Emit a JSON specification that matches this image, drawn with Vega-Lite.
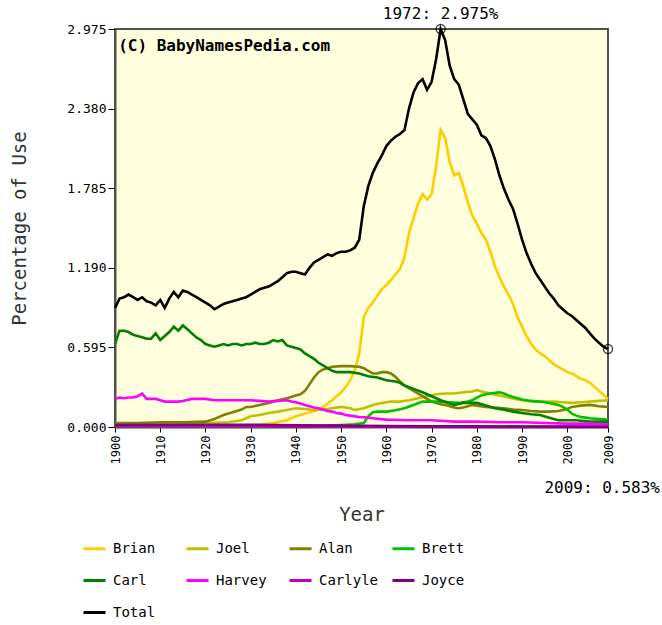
{
"$schema": "https://vega.github.io/schema/vega-lite/v6.json",
"autosize": {"type": "none"},
"padding": {"left": 115, "top": 29, "right": 54, "bottom": 198},
"width": 493,
"height": 398,
"background": "white",
"config": {"view": {"stroke": "#505050", "strokeWidth": 2, "fill": "#ffffde"}},
"datasets": {
"series": [
{"Name":"Brian","Year":1900,"Pct":0.003},{"Name":"Brian","Year":1930,"Pct":0.01},{"Name":"Brian","Year":1935,"Pct":0.03},{"Name":"Brian","Year":1938,"Pct":0.05},{"Name":"Brian","Year":1940,"Pct":0.08},{"Name":"Brian","Year":1942,"Pct":0.10},{"Name":"Brian","Year":1944,"Pct":0.12},{"Name":"Brian","Year":1946,"Pct":0.15},{"Name":"Brian","Year":1948,"Pct":0.20},{"Name":"Brian","Year":1950,"Pct":0.26},{"Name":"Brian","Year":1951,"Pct":0.30},{"Name":"Brian","Year":1952,"Pct":0.35},{"Name":"Brian","Year":1953,"Pct":0.42},{"Name":"Brian","Year":1954,"Pct":0.55},{"Name":"Brian","Year":1955,"Pct":0.82},{"Name":"Brian","Year":1956,"Pct":0.89},{"Name":"Brian","Year":1957,"Pct":0.93},{"Name":"Brian","Year":1958,"Pct":0.98},{"Name":"Brian","Year":1959,"Pct":1.03},{"Name":"Brian","Year":1960,"Pct":1.06},{"Name":"Brian","Year":1961,"Pct":1.10},{"Name":"Brian","Year":1962,"Pct":1.14},{"Name":"Brian","Year":1963,"Pct":1.18},{"Name":"Brian","Year":1964,"Pct":1.27},{"Name":"Brian","Year":1965,"Pct":1.45},{"Name":"Brian","Year":1966,"Pct":1.56},{"Name":"Brian","Year":1967,"Pct":1.67},{"Name":"Brian","Year":1968,"Pct":1.74},{"Name":"Brian","Year":1969,"Pct":1.70},{"Name":"Brian","Year":1970,"Pct":1.74},{"Name":"Brian","Year":1971,"Pct":1.95},{"Name":"Brian","Year":1972,"Pct":2.22},{"Name":"Brian","Year":1973,"Pct":2.16},{"Name":"Brian","Year":1974,"Pct":1.98},{"Name":"Brian","Year":1975,"Pct":1.88},{"Name":"Brian","Year":1976,"Pct":1.90},{"Name":"Brian","Year":1977,"Pct":1.80},{"Name":"Brian","Year":1978,"Pct":1.68},{"Name":"Brian","Year":1979,"Pct":1.58},{"Name":"Brian","Year":1980,"Pct":1.52},{"Name":"Brian","Year":1981,"Pct":1.45},{"Name":"Brian","Year":1982,"Pct":1.40},{"Name":"Brian","Year":1983,"Pct":1.31},{"Name":"Brian","Year":1984,"Pct":1.20},{"Name":"Brian","Year":1985,"Pct":1.12},{"Name":"Brian","Year":1986,"Pct":1.05},{"Name":"Brian","Year":1987,"Pct":0.99},{"Name":"Brian","Year":1988,"Pct":0.92},{"Name":"Brian","Year":1989,"Pct":0.82},{"Name":"Brian","Year":1990,"Pct":0.75},{"Name":"Brian","Year":1991,"Pct":0.68},{"Name":"Brian","Year":1992,"Pct":0.62},{"Name":"Brian","Year":1993,"Pct":0.58},{"Name":"Brian","Year":1994,"Pct":0.55},{"Name":"Brian","Year":1995,"Pct":0.53},{"Name":"Brian","Year":1996,"Pct":0.50},{"Name":"Brian","Year":1997,"Pct":0.47},{"Name":"Brian","Year":1998,"Pct":0.45},{"Name":"Brian","Year":1999,"Pct":0.43},{"Name":"Brian","Year":2000,"Pct":0.41},{"Name":"Brian","Year":2001,"Pct":0.40},{"Name":"Brian","Year":2002,"Pct":0.38},{"Name":"Brian","Year":2003,"Pct":0.36},{"Name":"Brian","Year":2004,"Pct":0.35},{"Name":"Brian","Year":2005,"Pct":0.33},{"Name":"Brian","Year":2006,"Pct":0.30},{"Name":"Brian","Year":2007,"Pct":0.27},{"Name":"Brian","Year":2008,"Pct":0.24},{"Name":"Brian","Year":2009,"Pct":0.21},
{"Name":"Joel","Year":1900,"Pct":0.025},{"Name":"Joel","Year":1905,"Pct":0.028},{"Name":"Joel","Year":1910,"Pct":0.03},{"Name":"Joel","Year":1915,"Pct":0.03},{"Name":"Joel","Year":1920,"Pct":0.03},{"Name":"Joel","Year":1925,"Pct":0.035},{"Name":"Joel","Year":1928,"Pct":0.05},{"Name":"Joel","Year":1930,"Pct":0.08},{"Name":"Joel","Year":1932,"Pct":0.09},{"Name":"Joel","Year":1934,"Pct":0.105},{"Name":"Joel","Year":1936,"Pct":0.115},{"Name":"Joel","Year":1938,"Pct":0.127},{"Name":"Joel","Year":1940,"Pct":0.14},{"Name":"Joel","Year":1942,"Pct":0.135},{"Name":"Joel","Year":1944,"Pct":0.127},{"Name":"Joel","Year":1946,"Pct":0.13},{"Name":"Joel","Year":1948,"Pct":0.14},{"Name":"Joel","Year":1950,"Pct":0.15},{"Name":"Joel","Year":1952,"Pct":0.14},{"Name":"Joel","Year":1953,"Pct":0.127},{"Name":"Joel","Year":1955,"Pct":0.14},{"Name":"Joel","Year":1957,"Pct":0.165},{"Name":"Joel","Year":1959,"Pct":0.18},{"Name":"Joel","Year":1961,"Pct":0.19},{"Name":"Joel","Year":1963,"Pct":0.19},{"Name":"Joel","Year":1965,"Pct":0.20},{"Name":"Joel","Year":1967,"Pct":0.215},{"Name":"Joel","Year":1969,"Pct":0.23},{"Name":"Joel","Year":1971,"Pct":0.245},{"Name":"Joel","Year":1973,"Pct":0.25},{"Name":"Joel","Year":1975,"Pct":0.25},{"Name":"Joel","Year":1977,"Pct":0.26},{"Name":"Joel","Year":1979,"Pct":0.265},{"Name":"Joel","Year":1980,"Pct":0.275},{"Name":"Joel","Year":1981,"Pct":0.265},{"Name":"Joel","Year":1983,"Pct":0.25},{"Name":"Joel","Year":1985,"Pct":0.235},{"Name":"Joel","Year":1987,"Pct":0.22},{"Name":"Joel","Year":1989,"Pct":0.205},{"Name":"Joel","Year":1991,"Pct":0.195},{"Name":"Joel","Year":1993,"Pct":0.19},{"Name":"Joel","Year":1995,"Pct":0.19},{"Name":"Joel","Year":1997,"Pct":0.19},{"Name":"Joel","Year":1999,"Pct":0.185},{"Name":"Joel","Year":2001,"Pct":0.18},{"Name":"Joel","Year":2003,"Pct":0.185},{"Name":"Joel","Year":2005,"Pct":0.19},{"Name":"Joel","Year":2007,"Pct":0.195},{"Name":"Joel","Year":2009,"Pct":0.20},
{"Name":"Alan","Year":1900,"Pct":0.03},{"Name":"Alan","Year":1905,"Pct":0.03},{"Name":"Alan","Year":1910,"Pct":0.035},{"Name":"Alan","Year":1915,"Pct":0.035},{"Name":"Alan","Year":1920,"Pct":0.04},{"Name":"Alan","Year":1922,"Pct":0.06},{"Name":"Alan","Year":1924,"Pct":0.09},{"Name":"Alan","Year":1926,"Pct":0.11},{"Name":"Alan","Year":1928,"Pct":0.13},{"Name":"Alan","Year":1929,"Pct":0.15},{"Name":"Alan","Year":1930,"Pct":0.15},{"Name":"Alan","Year":1932,"Pct":0.165},{"Name":"Alan","Year":1934,"Pct":0.18},{"Name":"Alan","Year":1936,"Pct":0.20},{"Name":"Alan","Year":1938,"Pct":0.215},{"Name":"Alan","Year":1940,"Pct":0.235},{"Name":"Alan","Year":1941,"Pct":0.245},{"Name":"Alan","Year":1942,"Pct":0.27},{"Name":"Alan","Year":1943,"Pct":0.32},{"Name":"Alan","Year":1944,"Pct":0.37},{"Name":"Alan","Year":1945,"Pct":0.41},{"Name":"Alan","Year":1946,"Pct":0.43},{"Name":"Alan","Year":1947,"Pct":0.44},{"Name":"Alan","Year":1948,"Pct":0.45},{"Name":"Alan","Year":1950,"Pct":0.455},{"Name":"Alan","Year":1952,"Pct":0.455},{"Name":"Alan","Year":1954,"Pct":0.45},{"Name":"Alan","Year":1955,"Pct":0.44},{"Name":"Alan","Year":1956,"Pct":0.42},{"Name":"Alan","Year":1957,"Pct":0.40},{"Name":"Alan","Year":1958,"Pct":0.40},{"Name":"Alan","Year":1959,"Pct":0.41},{"Name":"Alan","Year":1960,"Pct":0.41},{"Name":"Alan","Year":1961,"Pct":0.40},{"Name":"Alan","Year":1962,"Pct":0.375},{"Name":"Alan","Year":1963,"Pct":0.34},{"Name":"Alan","Year":1964,"Pct":0.31},{"Name":"Alan","Year":1965,"Pct":0.29},{"Name":"Alan","Year":1966,"Pct":0.27},{"Name":"Alan","Year":1967,"Pct":0.25},{"Name":"Alan","Year":1968,"Pct":0.23},{"Name":"Alan","Year":1969,"Pct":0.21},{"Name":"Alan","Year":1970,"Pct":0.19},{"Name":"Alan","Year":1971,"Pct":0.18},{"Name":"Alan","Year":1972,"Pct":0.17},{"Name":"Alan","Year":1973,"Pct":0.165},{"Name":"Alan","Year":1974,"Pct":0.155},{"Name":"Alan","Year":1975,"Pct":0.145},{"Name":"Alan","Year":1976,"Pct":0.14},{"Name":"Alan","Year":1977,"Pct":0.145},{"Name":"Alan","Year":1978,"Pct":0.155},{"Name":"Alan","Year":1979,"Pct":0.165},{"Name":"Alan","Year":1980,"Pct":0.16},{"Name":"Alan","Year":1982,"Pct":0.15},{"Name":"Alan","Year":1984,"Pct":0.145},{"Name":"Alan","Year":1986,"Pct":0.14},{"Name":"Alan","Year":1988,"Pct":0.13},{"Name":"Alan","Year":1990,"Pct":0.127},{"Name":"Alan","Year":1992,"Pct":0.12},{"Name":"Alan","Year":1994,"Pct":0.115},{"Name":"Alan","Year":1996,"Pct":0.115},{"Name":"Alan","Year":1998,"Pct":0.12},{"Name":"Alan","Year":2000,"Pct":0.135},{"Name":"Alan","Year":2001,"Pct":0.15},{"Name":"Alan","Year":2002,"Pct":0.155},{"Name":"Alan","Year":2003,"Pct":0.16},{"Name":"Alan","Year":2005,"Pct":0.165},{"Name":"Alan","Year":2007,"Pct":0.155},{"Name":"Alan","Year":2009,"Pct":0.15},
{"Name":"Brett","Year":1900,"Pct":0.0},{"Name":"Brett","Year":1945,"Pct":0.0},{"Name":"Brett","Year":1947,"Pct":0.01},{"Name":"Brett","Year":1950,"Pct":0.015},{"Name":"Brett","Year":1953,"Pct":0.02},{"Name":"Brett","Year":1955,"Pct":0.03},{"Name":"Brett","Year":1956,"Pct":0.08},{"Name":"Brett","Year":1957,"Pct":0.11},{"Name":"Brett","Year":1958,"Pct":0.115},{"Name":"Brett","Year":1960,"Pct":0.115},{"Name":"Brett","Year":1962,"Pct":0.125},{"Name":"Brett","Year":1964,"Pct":0.14},{"Name":"Brett","Year":1966,"Pct":0.165},{"Name":"Brett","Year":1968,"Pct":0.19},{"Name":"Brett","Year":1970,"Pct":0.19},{"Name":"Brett","Year":1972,"Pct":0.19},{"Name":"Brett","Year":1974,"Pct":0.185},{"Name":"Brett","Year":1976,"Pct":0.18},{"Name":"Brett","Year":1978,"Pct":0.19},{"Name":"Brett","Year":1979,"Pct":0.20},{"Name":"Brett","Year":1980,"Pct":0.22},{"Name":"Brett","Year":1981,"Pct":0.235},{"Name":"Brett","Year":1982,"Pct":0.245},{"Name":"Brett","Year":1983,"Pct":0.25},{"Name":"Brett","Year":1984,"Pct":0.255},{"Name":"Brett","Year":1985,"Pct":0.26},{"Name":"Brett","Year":1986,"Pct":0.25},{"Name":"Brett","Year":1987,"Pct":0.235},{"Name":"Brett","Year":1988,"Pct":0.225},{"Name":"Brett","Year":1989,"Pct":0.215},{"Name":"Brett","Year":1990,"Pct":0.205},{"Name":"Brett","Year":1991,"Pct":0.20},{"Name":"Brett","Year":1992,"Pct":0.195},{"Name":"Brett","Year":1994,"Pct":0.19},{"Name":"Brett","Year":1996,"Pct":0.18},{"Name":"Brett","Year":1998,"Pct":0.165},{"Name":"Brett","Year":1999,"Pct":0.15},{"Name":"Brett","Year":2000,"Pct":0.13},{"Name":"Brett","Year":2001,"Pct":0.10},{"Name":"Brett","Year":2002,"Pct":0.085},{"Name":"Brett","Year":2003,"Pct":0.075},{"Name":"Brett","Year":2004,"Pct":0.07},{"Name":"Brett","Year":2005,"Pct":0.065},{"Name":"Brett","Year":2007,"Pct":0.06},{"Name":"Brett","Year":2009,"Pct":0.055},
{"Name":"Carl","Year":1900,"Pct":0.62},{"Name":"Carl","Year":1901,"Pct":0.72},{"Name":"Carl","Year":1902,"Pct":0.72},{"Name":"Carl","Year":1903,"Pct":0.71},{"Name":"Carl","Year":1904,"Pct":0.69},{"Name":"Carl","Year":1905,"Pct":0.68},{"Name":"Carl","Year":1906,"Pct":0.67},{"Name":"Carl","Year":1907,"Pct":0.66},{"Name":"Carl","Year":1908,"Pct":0.66},{"Name":"Carl","Year":1909,"Pct":0.70},{"Name":"Carl","Year":1910,"Pct":0.65},{"Name":"Carl","Year":1911,"Pct":0.68},{"Name":"Carl","Year":1912,"Pct":0.71},{"Name":"Carl","Year":1913,"Pct":0.75},{"Name":"Carl","Year":1914,"Pct":0.72},{"Name":"Carl","Year":1915,"Pct":0.76},{"Name":"Carl","Year":1916,"Pct":0.73},{"Name":"Carl","Year":1917,"Pct":0.70},{"Name":"Carl","Year":1918,"Pct":0.67},{"Name":"Carl","Year":1919,"Pct":0.65},{"Name":"Carl","Year":1920,"Pct":0.62},{"Name":"Carl","Year":1921,"Pct":0.61},{"Name":"Carl","Year":1922,"Pct":0.60},{"Name":"Carl","Year":1923,"Pct":0.61},{"Name":"Carl","Year":1924,"Pct":0.62},{"Name":"Carl","Year":1925,"Pct":0.61},{"Name":"Carl","Year":1926,"Pct":0.62},{"Name":"Carl","Year":1927,"Pct":0.62},{"Name":"Carl","Year":1928,"Pct":0.61},{"Name":"Carl","Year":1929,"Pct":0.62},{"Name":"Carl","Year":1930,"Pct":0.62},{"Name":"Carl","Year":1931,"Pct":0.63},{"Name":"Carl","Year":1932,"Pct":0.62},{"Name":"Carl","Year":1933,"Pct":0.62},{"Name":"Carl","Year":1934,"Pct":0.63},{"Name":"Carl","Year":1935,"Pct":0.65},{"Name":"Carl","Year":1936,"Pct":0.64},{"Name":"Carl","Year":1937,"Pct":0.65},{"Name":"Carl","Year":1938,"Pct":0.61},{"Name":"Carl","Year":1939,"Pct":0.60},{"Name":"Carl","Year":1940,"Pct":0.59},{"Name":"Carl","Year":1941,"Pct":0.58},{"Name":"Carl","Year":1942,"Pct":0.55},{"Name":"Carl","Year":1943,"Pct":0.53},{"Name":"Carl","Year":1944,"Pct":0.51},{"Name":"Carl","Year":1945,"Pct":0.48},{"Name":"Carl","Year":1946,"Pct":0.46},{"Name":"Carl","Year":1947,"Pct":0.44},{"Name":"Carl","Year":1948,"Pct":0.42},{"Name":"Carl","Year":1949,"Pct":0.41},{"Name":"Carl","Year":1952,"Pct":0.41},{"Name":"Carl","Year":1954,"Pct":0.40},{"Name":"Carl","Year":1956,"Pct":0.38},{"Name":"Carl","Year":1958,"Pct":0.37},{"Name":"Carl","Year":1960,"Pct":0.35},{"Name":"Carl","Year":1962,"Pct":0.34},{"Name":"Carl","Year":1963,"Pct":0.33},{"Name":"Carl","Year":1964,"Pct":0.31},{"Name":"Carl","Year":1966,"Pct":0.285},{"Name":"Carl","Year":1968,"Pct":0.26},{"Name":"Carl","Year":1970,"Pct":0.23},{"Name":"Carl","Year":1972,"Pct":0.20},{"Name":"Carl","Year":1974,"Pct":0.175},{"Name":"Carl","Year":1975,"Pct":0.165},{"Name":"Carl","Year":1977,"Pct":0.18},{"Name":"Carl","Year":1980,"Pct":0.18},{"Name":"Carl","Year":1982,"Pct":0.16},{"Name":"Carl","Year":1984,"Pct":0.14},{"Name":"Carl","Year":1986,"Pct":0.13},{"Name":"Carl","Year":1988,"Pct":0.115},{"Name":"Carl","Year":1990,"Pct":0.105},{"Name":"Carl","Year":1992,"Pct":0.095},{"Name":"Carl","Year":1994,"Pct":0.09},{"Name":"Carl","Year":1996,"Pct":0.07},{"Name":"Carl","Year":1998,"Pct":0.05},{"Name":"Carl","Year":2002,"Pct":0.05},{"Name":"Carl","Year":2005,"Pct":0.04},{"Name":"Carl","Year":2009,"Pct":0.04},
{"Name":"Harvey","Year":1900,"Pct":0.21},{"Name":"Harvey","Year":1901,"Pct":0.22},{"Name":"Harvey","Year":1902,"Pct":0.215},{"Name":"Harvey","Year":1903,"Pct":0.22},{"Name":"Harvey","Year":1904,"Pct":0.22},{"Name":"Harvey","Year":1905,"Pct":0.23},{"Name":"Harvey","Year":1906,"Pct":0.25},{"Name":"Harvey","Year":1907,"Pct":0.21},{"Name":"Harvey","Year":1909,"Pct":0.21},{"Name":"Harvey","Year":1910,"Pct":0.20},{"Name":"Harvey","Year":1911,"Pct":0.19},{"Name":"Harvey","Year":1914,"Pct":0.19},{"Name":"Harvey","Year":1915,"Pct":0.195},{"Name":"Harvey","Year":1917,"Pct":0.21},{"Name":"Harvey","Year":1920,"Pct":0.21},{"Name":"Harvey","Year":1922,"Pct":0.20},{"Name":"Harvey","Year":1926,"Pct":0.20},{"Name":"Harvey","Year":1930,"Pct":0.20},{"Name":"Harvey","Year":1932,"Pct":0.195},{"Name":"Harvey","Year":1934,"Pct":0.19},{"Name":"Harvey","Year":1936,"Pct":0.195},{"Name":"Harvey","Year":1938,"Pct":0.20},{"Name":"Harvey","Year":1939,"Pct":0.19},{"Name":"Harvey","Year":1940,"Pct":0.185},{"Name":"Harvey","Year":1941,"Pct":0.175},{"Name":"Harvey","Year":1942,"Pct":0.165},{"Name":"Harvey","Year":1943,"Pct":0.155},{"Name":"Harvey","Year":1944,"Pct":0.145},{"Name":"Harvey","Year":1945,"Pct":0.14},{"Name":"Harvey","Year":1946,"Pct":0.13},{"Name":"Harvey","Year":1947,"Pct":0.12},{"Name":"Harvey","Year":1948,"Pct":0.115},{"Name":"Harvey","Year":1949,"Pct":0.105},{"Name":"Harvey","Year":1950,"Pct":0.10},{"Name":"Harvey","Year":1951,"Pct":0.09},{"Name":"Harvey","Year":1952,"Pct":0.085},{"Name":"Harvey","Year":1954,"Pct":0.075},{"Name":"Harvey","Year":1956,"Pct":0.07},{"Name":"Harvey","Year":1957,"Pct":0.065},{"Name":"Harvey","Year":1960,"Pct":0.055},{"Name":"Harvey","Year":1965,"Pct":0.05},{"Name":"Harvey","Year":1970,"Pct":0.05},{"Name":"Harvey","Year":1975,"Pct":0.04},{"Name":"Harvey","Year":1980,"Pct":0.04},{"Name":"Harvey","Year":1985,"Pct":0.035},{"Name":"Harvey","Year":1990,"Pct":0.035},{"Name":"Harvey","Year":1995,"Pct":0.03},{"Name":"Harvey","Year":2000,"Pct":0.025},{"Name":"Harvey","Year":2005,"Pct":0.025},{"Name":"Harvey","Year":2009,"Pct":0.02},
{"Name":"Carlyle","Year":1900,"Pct":0.004},{"Name":"Carlyle","Year":1920,"Pct":0.004},{"Name":"Carlyle","Year":1940,"Pct":0.003},{"Name":"Carlyle","Year":1960,"Pct":0.002},{"Name":"Carlyle","Year":1980,"Pct":0.001},{"Name":"Carlyle","Year":2009,"Pct":0.001},
{"Name":"Joyce","Year":1900,"Pct":0.015},{"Name":"Joyce","Year":1920,"Pct":0.017},{"Name":"Joyce","Year":1930,"Pct":0.016},{"Name":"Joyce","Year":1940,"Pct":0.012},{"Name":"Joyce","Year":1950,"Pct":0.01},{"Name":"Joyce","Year":1960,"Pct":0.008},{"Name":"Joyce","Year":1970,"Pct":0.006},{"Name":"Joyce","Year":1980,"Pct":0.005},{"Name":"Joyce","Year":1990,"Pct":0.004},{"Name":"Joyce","Year":2000,"Pct":0.003},{"Name":"Joyce","Year":2009,"Pct":0.002},
{"Name":"Total","Year":1900,"Pct":0.89},{"Name":"Total","Year":1901,"Pct":0.96},{"Name":"Total","Year":1902,"Pct":0.97},{"Name":"Total","Year":1903,"Pct":0.99},{"Name":"Total","Year":1904,"Pct":0.97},{"Name":"Total","Year":1905,"Pct":0.95},{"Name":"Total","Year":1906,"Pct":0.97},{"Name":"Total","Year":1907,"Pct":0.94},{"Name":"Total","Year":1908,"Pct":0.93},{"Name":"Total","Year":1909,"Pct":0.91},{"Name":"Total","Year":1910,"Pct":0.95},{"Name":"Total","Year":1911,"Pct":0.89},{"Name":"Total","Year":1912,"Pct":0.96},{"Name":"Total","Year":1913,"Pct":1.01},{"Name":"Total","Year":1914,"Pct":0.97},{"Name":"Total","Year":1915,"Pct":1.02},{"Name":"Total","Year":1916,"Pct":1.01},{"Name":"Total","Year":1917,"Pct":0.99},{"Name":"Total","Year":1918,"Pct":0.97},{"Name":"Total","Year":1919,"Pct":0.95},{"Name":"Total","Year":1920,"Pct":0.93},{"Name":"Total","Year":1921,"Pct":0.91},{"Name":"Total","Year":1922,"Pct":0.88},{"Name":"Total","Year":1923,"Pct":0.90},{"Name":"Total","Year":1924,"Pct":0.92},{"Name":"Total","Year":1925,"Pct":0.93},{"Name":"Total","Year":1926,"Pct":0.94},{"Name":"Total","Year":1927,"Pct":0.95},{"Name":"Total","Year":1928,"Pct":0.96},{"Name":"Total","Year":1929,"Pct":0.97},{"Name":"Total","Year":1930,"Pct":0.99},{"Name":"Total","Year":1931,"Pct":1.01},{"Name":"Total","Year":1932,"Pct":1.03},{"Name":"Total","Year":1933,"Pct":1.04},{"Name":"Total","Year":1934,"Pct":1.05},{"Name":"Total","Year":1935,"Pct":1.07},{"Name":"Total","Year":1936,"Pct":1.09},{"Name":"Total","Year":1937,"Pct":1.12},{"Name":"Total","Year":1938,"Pct":1.15},{"Name":"Total","Year":1939,"Pct":1.16},{"Name":"Total","Year":1940,"Pct":1.16},{"Name":"Total","Year":1941,"Pct":1.15},{"Name":"Total","Year":1942,"Pct":1.14},{"Name":"Total","Year":1943,"Pct":1.19},{"Name":"Total","Year":1944,"Pct":1.23},{"Name":"Total","Year":1945,"Pct":1.25},{"Name":"Total","Year":1946,"Pct":1.27},{"Name":"Total","Year":1947,"Pct":1.29},{"Name":"Total","Year":1948,"Pct":1.28},{"Name":"Total","Year":1949,"Pct":1.30},{"Name":"Total","Year":1950,"Pct":1.31},{"Name":"Total","Year":1951,"Pct":1.31},{"Name":"Total","Year":1952,"Pct":1.32},{"Name":"Total","Year":1953,"Pct":1.34},{"Name":"Total","Year":1954,"Pct":1.40},{"Name":"Total","Year":1955,"Pct":1.65},{"Name":"Total","Year":1956,"Pct":1.80},{"Name":"Total","Year":1957,"Pct":1.90},{"Name":"Total","Year":1958,"Pct":1.97},{"Name":"Total","Year":1959,"Pct":2.03},{"Name":"Total","Year":1960,"Pct":2.10},{"Name":"Total","Year":1961,"Pct":2.14},{"Name":"Total","Year":1962,"Pct":2.17},{"Name":"Total","Year":1963,"Pct":2.19},{"Name":"Total","Year":1964,"Pct":2.22},{"Name":"Total","Year":1965,"Pct":2.38},{"Name":"Total","Year":1966,"Pct":2.50},{"Name":"Total","Year":1967,"Pct":2.57},{"Name":"Total","Year":1968,"Pct":2.60},{"Name":"Total","Year":1969,"Pct":2.52},{"Name":"Total","Year":1970,"Pct":2.58},{"Name":"Total","Year":1971,"Pct":2.75},{"Name":"Total","Year":1972,"Pct":2.975},{"Name":"Total","Year":1973,"Pct":2.89},{"Name":"Total","Year":1974,"Pct":2.70},{"Name":"Total","Year":1975,"Pct":2.60},{"Name":"Total","Year":1976,"Pct":2.56},{"Name":"Total","Year":1977,"Pct":2.45},{"Name":"Total","Year":1978,"Pct":2.34},{"Name":"Total","Year":1979,"Pct":2.30},{"Name":"Total","Year":1980,"Pct":2.26},{"Name":"Total","Year":1981,"Pct":2.18},{"Name":"Total","Year":1982,"Pct":2.16},{"Name":"Total","Year":1983,"Pct":2.10},{"Name":"Total","Year":1984,"Pct":2.00},{"Name":"Total","Year":1985,"Pct":1.88},{"Name":"Total","Year":1986,"Pct":1.78},{"Name":"Total","Year":1987,"Pct":1.70},{"Name":"Total","Year":1988,"Pct":1.63},{"Name":"Total","Year":1989,"Pct":1.52},{"Name":"Total","Year":1990,"Pct":1.40},{"Name":"Total","Year":1991,"Pct":1.30},{"Name":"Total","Year":1992,"Pct":1.22},{"Name":"Total","Year":1993,"Pct":1.15},{"Name":"Total","Year":1994,"Pct":1.10},{"Name":"Total","Year":1995,"Pct":1.05},{"Name":"Total","Year":1996,"Pct":1.00},{"Name":"Total","Year":1997,"Pct":0.96},{"Name":"Total","Year":1998,"Pct":0.91},{"Name":"Total","Year":1999,"Pct":0.88},{"Name":"Total","Year":2000,"Pct":0.85},{"Name":"Total","Year":2001,"Pct":0.83},{"Name":"Total","Year":2002,"Pct":0.80},{"Name":"Total","Year":2003,"Pct":0.77},{"Name":"Total","Year":2004,"Pct":0.74},{"Name":"Total","Year":2005,"Pct":0.70},{"Name":"Total","Year":2006,"Pct":0.66},{"Name":"Total","Year":2007,"Pct":0.63},{"Name":"Total","Year":2008,"Pct":0.60},{"Name":"Total","Year":2009,"Pct":0.583}
],
"markers": [{"Year":1972,"Pct":2.975},{"Year":2009,"Pct":0.583}],
"peaknote": [{"Year":1972,"Pct":3.09,"Label":"1972: 2.975%"}],
"endnote": [{"Year":2009,"Pct":-0.456,"Label":"2009: 0.583%"}],
"mark": [{"Year":1900.7,"Pct":2.85,"Label":"(C) BabyNamesPedia.com"}]
},
"layer": [
{
"data": {"name": "series"},
"mark": {"type": "line", "strokeWidth": 2.6, "interpolate": "linear"},
"encoding": {
"x": {"field": "Year", "type": "quantitative",
"scale": {"domain": [1900, 2009], "nice": false, "zero": false},
"axis": {"title": "Year", "values": [1900,1910,1920,1930,1940,1950,1960,1970,1980,1990,2000,2009], "format": "d",
"labelAngle": -90, "labelAlign": "right", "labelBaseline": "middle", "labelFont": "DejaVu Sans Mono", "labelFontSize": 12, "labelColor": "#000",
"tickColor": "#000", "tickSize": 5, "domainColor": "#505050", "domainWidth": 2, "grid": false, "labelPadding": 3,
"titleFont": "DejaVu Sans Mono", "titleFontSize": 19, "titleFontWeight": "normal", "titleColor": "#333", "titleY": 78, "titleBaseline": "top"}},
"y": {"field": "Pct", "type": "quantitative",
"scale": {"domain": [0, 2.975], "nice": false, "zero": true},
"axis": {"title": "Percentage of Use", "values": [0, 0.595, 1.19, 1.785, 2.38, 2.975], "format": ".3f",
"labelFont": "DejaVu Sans Mono", "labelFontSize": 13, "labelColor": "#000", "tickColor": "#000", "tickSize": 7,
"domainColor": "#505050", "domainWidth": 2, "grid": false, "labelPadding": 2,
"titleFont": "DejaVu Sans Mono", "titleFontSize": 19, "titleFontWeight": "normal", "titleColor": "#333", "titleX": -96, "titleBaseline": "middle"}},
"color": {"field": "Name", "type": "nominal",
"scale": {"domain": ["Brian","Joel","Alan","Brett","Carl","Harvey","Carlyle","Joyce","Total"],
"range": ["#ffcc00","#c0c000","#808000","#00c000","#008000","#ff00ff","#c000c0","#800080","#000000"]},
"legend": {"title": null, "orient": "none", "legendX": -33, "legendY": 507, "direction": "horizontal", "columns": 4, "gridAlign": "all",
"symbolType": "stroke", "symbolSize": 484, "symbolStrokeWidth": 3, "labelFont": "DejaVu Sans Mono", "labelFontSize": 14, "labelColor": "#000",
"labelOffset": 6, "columnPadding": 7, "rowPadding": 12}}
}
},
{
"data": {"name": "markers"},
"mark": {"type": "point", "shape": "circle", "filled": false, "stroke": "#000", "strokeWidth": 1.5, "size": 80},
"encoding": {"x": {"field": "Year", "type": "quantitative"}, "y": {"field": "Pct", "type": "quantitative"}}
},
{
"data": {"name": "peaknote"},
"mark": {"type": "text", "font": "DejaVu Sans Mono", "fontSize": 16, "color": "#000", "baseline": "middle", "align": "center"},
"encoding": {"x": {"field": "Year", "type": "quantitative"}, "y": {"field": "Pct", "type": "quantitative"}, "text": {"field": "Label"}}
},
{
"data": {"name": "endnote"},
"mark": {"type": "text", "font": "DejaVu Sans Mono", "fontSize": 16, "color": "#000", "baseline": "middle", "align": "right", "dx": 52},
"encoding": {"x": {"field": "Year", "type": "quantitative"}, "y": {"field": "Pct", "type": "quantitative"}, "text": {"field": "Label"}}
},
{
"data": {"name": "mark"},
"mark": {"type": "text", "font": "DejaVu Sans Mono", "fontSize": 16, "fontWeight": "bold", "color": "#000", "baseline": "middle", "align": "left"},
"encoding": {"x": {"field": "Year", "type": "quantitative"}, "y": {"field": "Pct", "type": "quantitative"}, "text": {"field": "Label"}}
}
]
}
